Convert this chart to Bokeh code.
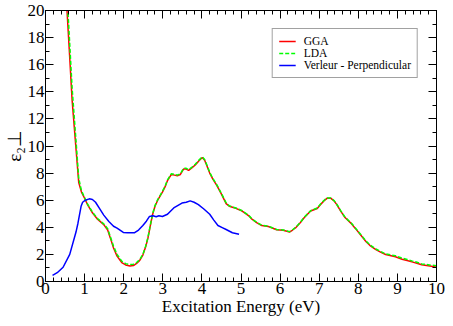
import math
from bokeh.plotting import figure
from bokeh.models import LinearAxis, FixedTicker, Range1d, CustomJSTickFormatter
from bokeh.embed import file_html
from bokeh.resources import INLINE

# ---------------- data ----------------
gga_e = [0.50, 0.55, 0.62, 0.68, 0.78, 0.85, 0.92, 0.99, 1.07, 1.20, 1.33, 1.49, 1.59,
         1.66, 1.74, 1.83, 1.95, 2.05, 2.16, 2.25, 2.33, 2.41, 2.49, 2.56, 2.62, 2.68,
         2.74, 2.80, 2.87, 2.99, 3.06, 3.12, 3.22, 3.30, 3.37, 3.45, 3.53, 3.60, 3.66,
         3.75, 3.83, 3.92, 4.01, 4.07, 4.12, 4.20, 4.28, 4.38, 4.49, 4.62, 4.70, 4.87,
         5.03, 5.20, 5.28, 5.40, 5.53, 5.70, 5.80, 5.91, 6.08, 6.24, 6.32, 6.41, 6.52,
         6.62, 6.78, 6.95, 7.03, 7.12, 7.20, 7.30, 7.38, 7.45, 7.55, 7.66, 7.83, 7.93,
         8.03, 8.20, 8.30, 8.45, 8.58, 8.70, 8.95, 9.12, 9.25, 9.37, 9.50, 9.62, 9.87,
         10.0]
gga_v = [22.6, 20.0, 16.5, 13.4, 9.8, 7.3, 6.6, 6.2, 5.7, 5.07, 4.6, 4.2, 3.8,
         3.2, 2.47, 1.87, 1.4, 1.22, 1.15, 1.18, 1.33, 1.55, 1.95, 2.55, 3.2, 4.1,
         4.95, 5.55, 6.0, 6.6, 7.0, 7.45, 7.9, 7.85, 7.8, 7.9, 8.3, 8.3, 8.2,
         8.4, 8.6, 8.9, 9.15, 8.95, 8.6, 8.0, 7.55, 7.1, 6.5, 5.75, 5.55, 5.4,
         5.2, 4.85, 4.6, 4.35, 4.13, 4.06, 3.95, 3.82, 3.78, 3.65, 3.8, 4.0, 4.35,
         4.72, 5.2, 5.39, 5.67, 5.95, 6.14, 6.14, 5.95, 5.67, 5.2, 4.72, 4.25, 3.9,
         3.54, 2.94, 2.65, 2.35, 2.15, 1.99, 1.83, 1.64, 1.55, 1.45, 1.35, 1.23, 1.12,
         1.06]

lda_e = [0.50, 0.55, 0.62, 0.68, 0.78, 0.85, 0.92, 0.99, 1.07, 1.20, 1.33, 1.49, 1.59,
         1.66, 1.74, 1.83, 1.95, 2.05, 2.16, 2.25, 2.33, 2.41, 2.49, 2.56, 2.62, 2.68,
         2.74, 2.80, 2.87, 2.99, 3.06, 3.12, 3.22, 3.30, 3.37, 3.45, 3.53, 3.60, 3.66,
         3.75, 3.83, 3.92, 4.01, 4.07, 4.12, 4.20, 4.28, 4.38, 4.49, 4.62, 4.70, 4.87,
         5.03, 5.20, 5.28, 5.40, 5.53, 5.70, 5.80, 5.91, 6.08, 6.24, 6.32, 6.41, 6.52,
         6.62, 6.78, 6.95, 7.03, 7.12, 7.20, 7.30, 7.38, 7.45, 7.55, 7.66, 7.83, 7.93,
         8.03, 8.20, 8.30, 8.45, 8.58, 8.70, 8.95, 9.12, 9.25, 9.37, 9.50, 9.62, 9.87,
         10.0]
lda_v = [23.8, 21.2, 17.5, 14.3, 10.4, 7.6, 6.7, 6.25, 5.75, 5.12, 4.65, 4.25, 3.9,
         3.3, 2.6, 2.0, 1.5, 1.32, 1.25, 1.27, 1.4, 1.62, 2.0, 2.6, 3.25, 4.15,
         5.0, 5.6, 6.05, 6.65, 7.05, 7.5, 7.95, 7.9, 7.85, 7.95, 8.35, 8.35, 8.25,
         8.45, 8.65, 8.95, 9.2, 9.0, 8.65, 8.05, 7.6, 7.15, 6.55, 5.8, 5.58, 5.42,
         5.22, 4.87, 4.62, 4.37, 4.15, 4.08, 3.97, 3.84, 3.8, 3.68, 3.82, 4.03, 4.38,
         4.75, 5.22, 5.42, 5.7, 5.98, 6.17, 6.16, 5.97, 5.7, 5.23, 4.75, 4.28, 3.93,
         3.58, 2.98, 2.7, 2.4, 2.2, 2.03, 1.9, 1.72, 1.63, 1.52, 1.42, 1.3, 1.2,
         1.17]

verleur_e = [0.18, 0.30, 0.45, 0.62, 0.78, 0.83, 0.91, 0.95, 1.02, 1.12, 1.20, 1.28, 1.38,
             1.49, 1.62, 1.74, 1.83, 1.99, 2.10, 2.20, 2.28, 2.38, 2.49, 2.58, 2.66,
             2.75, 2.83, 2.90, 2.99, 3.12, 3.28, 3.49, 3.60, 3.70, 3.80, 3.91, 4.05,
             4.20, 4.30, 4.41, 4.52, 4.62, 4.78, 4.95]
verleur_v = [0.45, 0.65, 1.05, 2.0, 3.65, 4.3, 5.55, 5.85, 6.0, 6.1, 6.05, 5.85, 5.4,
             4.9, 4.43, 4.08, 3.94, 3.62, 3.6, 3.6, 3.6, 3.8, 4.13, 4.45, 4.8,
             4.85, 4.78, 4.85, 4.8, 4.96, 5.43, 5.79, 5.85, 5.95, 5.85, 5.67, 5.35,
             4.96, 4.55, 4.13, 3.98, 3.84, 3.6, 3.49]

x_ticks = [0, 1, 2, 3, 4, 5, 6, 7, 8, 9, 10]
x_minor = [i * 0.2 for i in range(51)]
y_ticks = [0, 2, 4, 6, 8, 10, 12, 14, 16, 18, 20]
y_minor = list(range(21))

series_labels = ["GGA", "LDA", "Verleur - Perpendicular"]
x_label = "Excitation Energy (eV)"
y_label = "ε₂⊥"

# ---------------- figure ----------------
FONT = "Liberation Serif"

p = figure(width=445, height=318, output_backend="svg", toolbar_location=None,
           x_range=Range1d(0, 10), y_range=Range1d(0, 20),
           min_border_left=42, min_border_top=10, min_border_right=9, min_border_bottom=0)
p.xgrid.visible = False
p.ygrid.visible = False
p.outline_line_color = "black"
p.background_fill_color = "white"
p.border_fill_color = "white"

xt = FixedTicker(ticks=x_ticks, minor_ticks=x_minor)
yt = FixedTicker(ticks=y_ticks, minor_ticks=y_minor)


def style_axis(ax, labels=True):
    ax.axis_line_color = "black"
    ax.major_tick_line_color = "black"
    ax.minor_tick_line_color = "black"
    ax.major_tick_in = 8
    ax.major_tick_out = 0
    ax.minor_tick_in = 4
    ax.minor_tick_out = 0
    ax.major_label_text_font = FONT
    ax.major_label_text_color = "black"
    ax.major_label_text_font_size = "17px"
    if labels:
        ax.major_label_standoff = 1
    else:
        ax.formatter = CustomJSTickFormatter(code="return ''")
        ax.major_label_standoff = 0


p.xaxis.ticker = xt
p.yaxis.ticker = yt
style_axis(p.xaxis[0])
style_axis(p.yaxis[0])
p.xaxis.axis_label = x_label
p.xaxis.axis_label_text_font = FONT
p.xaxis.axis_label_text_font_size = "17px"
p.xaxis.axis_label_text_font_style = "normal"
p.xaxis.axis_label_text_color = "black"
p.xaxis.axis_label_standoff = 0

p.yaxis.axis_label = y_label
p.yaxis.axis_label_text_font = FONT
p.yaxis.axis_label_text_font_size = "19px"
p.yaxis.axis_label_text_font_style = "normal"
p.yaxis.axis_label_text_color = "black"
p.yaxis.axis_label_standoff = 0

top = LinearAxis(ticker=xt)
style_axis(top, labels=False)
p.add_layout(top, "above")
right = LinearAxis(ticker=yt)
style_axis(right, labels=False)
p.add_layout(right, "right")

p.line(gga_e, gga_v, color="#ff0000", line_width=1.5, legend_label=series_labels[0])
p.line(lda_e, lda_v, color="#00ff00", line_width=1.5, line_dash="4 2",
       legend_label=series_labels[1])
p.line(verleur_e, verleur_v, color="#0000ff", line_width=1.5, legend_label=series_labels[2])

lg = p.legend[0]
lg.location = "top_right"
lg.margin = 18
lg.padding = 6
lg.spacing = 0
lg.label_height = 10
lg.glyph_height = 10
lg.glyph_width = 17
lg.label_standoff = 8
lg.label_text_font = FONT
lg.label_text_font_size = "11.5px"
lg.label_text_color = "black"
lg.border_line_color = "#444444"
lg.border_line_width = 1
lg.background_fill_color = "white"
lg.background_fill_alpha = 1.0

open("out.html", "w").write(file_html(p, INLINE))
